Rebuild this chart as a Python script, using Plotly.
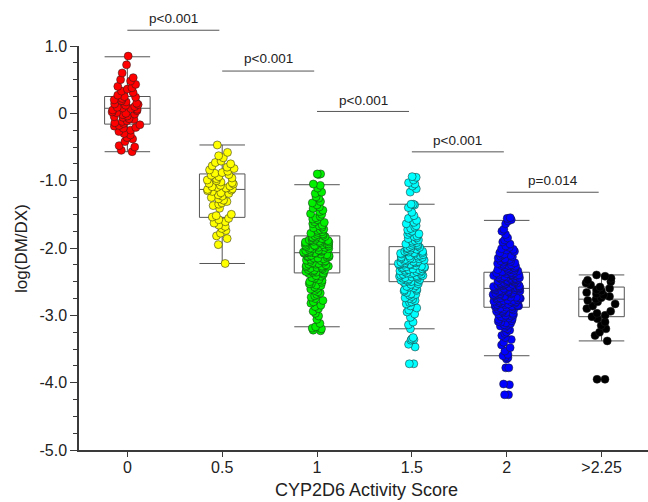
import plotly.graph_objects as go

categories = ["0", "0.5", "1", "1.5", "2", ">2.25"]
colors = ["#ff0000", "#ffff00", "#00f000", "#00ffff", "#0000ff", "#000000"]

# Box statistics
q1_vals = [-0.16, -1.545, -2.37, -2.50, -2.88, -3.02]
median_vals = [0.075, -1.13, -2.07, -2.24, -2.60, -2.76]
q3_vals = [0.25, -0.90, -1.82, -1.98, -2.36, -2.58]
lower_whisker = [-0.57, -2.23, -3.17, -3.20, -3.60, -3.38]
upper_whisker = [0.84, -0.47, -1.06, -1.35, -1.59, -2.40]

as_0 = [0.85, 0.72, 0.60, 0.53, 0.50, 0.48, 0.43, 0.40, 0.38, 0.36, 0.33, 0.31, 0.27, 0.25, 0.24,
        0.22, 0.20, 0.19, 0.17, 0.15, 0.14, 0.13, 0.12, 0.10, 0.09, 0.08, 0.07, 0.06, 0.05, 0.04,
        0.02, 0.01, 0.00, -0.01, -0.02, -0.04, -0.05, -0.06, -0.08, -0.09, -0.11, -0.12, -0.14,
        -0.15, -0.17, -0.18, -0.19, -0.21, -0.22, -0.25, -0.27, -0.30, -0.32, -0.36, -0.38, -0.42,
        -0.48, -0.50, -0.55, -0.57]

as_05 = [-0.47, -0.58, -0.63, -0.66, -0.71, -0.73, -0.75, -0.78, -0.80, -0.82, -0.84, -0.86, -0.88,
         -0.89, -0.91, -0.92, -0.94, -0.96, -0.97, -0.99, -1.00, -1.02, -1.03, -1.04, -1.05, -1.07,
         -1.08, -1.09, -1.10, -1.11, -1.12, -1.13, -1.14, -1.15, -1.16, -1.18, -1.19, -1.21, -1.23,
         -1.25, -1.27, -1.29, -1.31, -1.33, -1.35, -1.37, -1.41, -1.50, -1.52, -1.54, -1.56, -1.58,
         -1.61, -1.63, -1.66, -1.68, -1.71, -1.74, -1.78, -1.82, -1.86, -1.95, -2.23]

as_1 = [-0.90, -0.90, -0.91, -1.05, -1.07, -1.11, -1.17, -1.19, -1.24, -1.26, -1.31, -1.33, -1.36,
        -1.39, -1.41, -1.44, -1.46, -1.49, -1.50, -1.53, -1.55, -1.57, -1.58, -1.61, -1.62, -1.64,
        -1.66, -1.67, -1.69, -1.70, -1.72, -1.73, -1.74, -1.76, -1.77, -1.78, -1.79, -1.80, -1.81,
        -1.82,
        -1.83, -1.84, -1.84, -1.85, -1.86, -1.87, -1.88, -1.88, -1.89, -1.90, -1.91, -1.91, -1.92,
        -1.93, -1.94, -1.94, -1.95, -1.96, -1.97, -1.97, -1.98, -1.99, -1.99, -2.00, -2.01, -2.01,
        -2.02, -2.03, -2.03, -2.04, -2.04, -2.05, -2.05, -2.06, -2.06, -2.07, -2.07, -2.07, -1.96,
        -1.90,
        -2.08, -2.08, -2.09, -2.10, -2.11, -2.11, -2.12, -2.13, -2.14, -2.15, -2.15, -2.16, -2.17,
        -2.18, -2.19, -2.19, -2.20, -2.21, -2.22, -2.23, -2.24, -2.24, -2.25, -2.26, -2.27, -2.28,
        -2.29, -2.29, -2.30, -2.31, -2.32, -2.33, -2.33, -2.34, -2.35, -2.36, -2.36, -2.37, -2.13,
        -2.27,
        -2.38, -2.39, -2.41, -2.42, -2.44, -2.45, -2.47, -2.48, -2.50, -2.51, -2.53, -2.55, -2.56,
        -2.58, -2.60, -2.61, -2.63, -2.65, -2.67, -2.69, -2.71, -2.73, -2.75, -2.78, -2.80, -2.82,
        -2.85, -2.87, -2.90, -2.94, -2.97, -3.01, -3.06, -3.12, -3.17, -3.19, -3.20, -3.22, -3.23,
        -2.53]

as_15 = [-0.94, -0.95, -0.99, -1.03, -1.05, -1.08, -1.12, -1.17, -1.35, -1.35, -1.36, -1.40, -1.47,
         -1.52, -1.56, -1.59, -1.62, -1.64, -1.67, -1.69, -1.71, -1.73, -1.75, -1.77, -1.79, -1.80,
         -1.82, -1.83, -1.85, -1.86, -1.88, -1.89, -1.90, -1.92, -1.93, -1.94, -1.95, -1.96, -1.97,
         -1.98,
         -1.99, -2.00, -2.00, -2.01, -2.02, -2.03, -2.04, -2.05, -2.05, -2.06, -2.07, -2.08, -2.08,
         -2.09, -2.10, -2.11, -2.12, -2.12, -2.13, -2.14, -2.15, -2.15, -2.16, -2.17, -2.18, -2.18,
         -2.19, -2.20, -2.20, -2.21, -2.21, -2.22, -2.22, -2.23, -2.23, -2.24, -2.24, -2.24, -2.07,
         -2.16,
         -2.25, -2.25, -2.26, -2.27, -2.28, -2.28, -2.29, -2.30, -2.31, -2.31, -2.32, -2.33, -2.34,
         -2.35, -2.35, -2.36, -2.37, -2.38, -2.39, -2.39, -2.40, -2.41, -2.42, -2.43, -2.43, -2.44,
         -2.45, -2.46, -2.47, -2.47, -2.48, -2.49, -2.50, -2.50, -2.32, -2.37, -2.41, -2.45, -2.29,
         -2.34,
         -2.51, -2.53, -2.54, -2.56, -2.57, -2.59, -2.61, -2.62, -2.64, -2.66, -2.68, -2.70, -2.72,
         -2.74, -2.76, -2.78, -2.80, -2.83, -2.86, -2.89, -2.92, -2.95, -2.98, -3.03, -3.10, -3.14,
         -3.20, -3.33, -3.35, -3.36, -3.37, -3.43, -3.47, -3.72, -3.72, -2.58, -2.63, -2.69, -2.75,
         -2.81]

as_2 = [-1.55, -1.56, -1.58, -1.60, -1.64, -1.72, -1.75, -1.80, -1.85, -1.88, -1.91, -1.94, -1.97,
        -1.99, -2.01, -2.03, -2.05, -2.07, -2.09, -2.10, -2.12, -2.13, -2.15, -2.16, -2.18, -2.19,
        -2.20, -2.21, -2.23, -2.24, -2.25, -2.26, -2.27, -2.28, -2.29, -2.30, -2.31, -2.32, -2.33,
        -2.34, -2.35, -2.35, -2.36, -2.22, -2.17, -2.11, -2.26, -2.30, -2.33, -2.02,
        -2.37, -2.37, -2.38, -2.39, -2.40, -2.40, -2.41, -2.42, -2.42, -2.43, -2.44, -2.44, -2.45,
        -2.46, -2.46, -2.47, -2.48, -2.48, -2.49, -2.50, -2.50, -2.51, -2.52, -2.52, -2.53, -2.54,
        -2.54, -2.55, -2.56, -2.56, -2.57, -2.57, -2.58, -2.58, -2.59, -2.59, -2.60, -2.60, -2.41,
        -2.45, -2.49, -2.53, -2.57, -2.39, -2.43, -2.47, -2.51, -2.55, -2.59, -2.44,
        -2.61, -2.61, -2.62, -2.63, -2.63, -2.64, -2.65, -2.65, -2.66, -2.67, -2.68, -2.68, -2.69,
        -2.70, -2.71, -2.71, -2.72, -2.73, -2.74, -2.74, -2.75, -2.76, -2.77, -2.77, -2.78, -2.79,
        -2.80, -2.80, -2.81, -2.82, -2.83, -2.84, -2.84, -2.85, -2.86, -2.87, -2.87, -2.88, -2.62,
        -2.66, -2.70, -2.74, -2.78, -2.82, -2.86, -2.64, -2.69, -2.73, -2.79, -2.85,
        -2.89, -2.90, -2.91, -2.92, -2.93, -2.95, -2.96, -2.97, -2.99, -3.00, -3.02, -3.03, -3.05,
        -3.06, -3.08, -3.10, -3.12, -3.14, -3.16, -3.18, -3.20, -3.22, -3.25, -3.27, -3.30, -3.33,
        -3.36, -3.40, -3.44, -3.48, -3.53, -3.58, -3.60, -3.62, -3.63, -3.65, -3.78, -3.78, -4.02,
        -4.03, -4.18, -4.18, -2.94, -2.98, -3.04, -3.09, -3.15, -2.91, -3.01, -3.11]

as_gt225 = [-2.40, -2.42, -2.45, -2.48, -2.50, -2.52, -2.55, -2.58, -2.60, -2.62, -2.64, -2.66,
            -2.68, -2.70, -2.72, -2.74, -2.76, -2.78, -2.80, -2.83, -2.86, -2.90, -2.94, -2.97,
            -3.00, -3.02, -3.05, -3.10, -3.15, -3.20, -3.25, -3.30, -3.38, -3.95, -3.95]

groups = [as_0, as_05, as_1, as_15, as_2, as_gt225]

y_tick_vals = [-5, -4, -3, -2, -1, 0, 1]
y_tick_text = ["-5.0", "-4.0", "-3.0", "-2.0", "-1.0", "0", "1.0"]

# Pairwise comparisons: (left group index, label)
comparisons = [(0, "p<0.001"), (1, "p<0.001"), (2, "p<0.001"), (3, "p<0.001"), (4, "p=0.014")]

FONT = "Liberation Sans, Arial, sans-serif"
LINE = "#3a3a3a"
jitters = [0.75, 0.75, 0.6, 0.6, 0.6, 0.8]

fig = go.Figure()

for cat, a, m, b, lo, hi in zip(categories, q1_vals, median_vals, q3_vals, lower_whisker, upper_whisker):
    fig.add_trace(go.Box(
        x=[cat], q1=[a], median=[m], q3=[b], lowerfence=[lo], upperfence=[hi],
        boxpoints=False, width=0.48, whiskerwidth=1,
        fillcolor="rgba(0,0,0,0)", line=dict(color="#555555", width=1),
        showlegend=False, hoverinfo="skip"))

for cat, col, vals, jit in zip(categories, colors, groups, jitters):
    fig.add_trace(go.Box(
        x=[cat] * len(vals), y=vals, boxpoints="all", jitter=jit, pointpos=0,
        width=0.48, fillcolor="rgba(0,0,0,0)", line=dict(color="rgba(0,0,0,0)", width=0),
        marker=dict(color=col, size=8, line=dict(color="rgba(30,30,30,0.85)", width=0.6)),
        showlegend=False))

# comparison brackets, in paper units of the plot area
line_levels = [1.039, 0.938, 0.838, 0.738, 0.638]
text_levels = [1.067, 0.970, 0.866, 0.767, 0.667]

shapes = []
annotations = []
for (i, label), ly, ty in zip(comparisons, line_levels, text_levels):
    shapes.append(dict(type="line", xref="x", yref="paper", x0=i, x1=i + 0.97, y0=ly, y1=ly,
                       line=dict(color="#555555", width=1)))
    annotations.append(dict(x=i + 0.485, y=ty, xref="x", yref="paper", text=label, showarrow=False,
                            xanchor="center", yanchor="middle", font=dict(family=FONT, size=13.5, color="#222")))

annotations.append(dict(x=0.505, y=-0.099, xref="paper", yref="paper", text="CYP2D6 Activity Score",
                        showarrow=False, xanchor="center", yanchor="middle",
                        font=dict(family=FONT, size=18, color="#222")))
annotations.append(dict(x=-0.102, y=0.5, xref="paper", yref="paper", text="log(DM/DX)",
                        showarrow=False, xanchor="center", yanchor="middle", textangle=-90,
                        font=dict(family=FONT, size=17, color="#222")))

fig.update_layout(
    width=648, height=502,
    margin=dict(l=79, r=0, t=46, b=52),
    paper_bgcolor="white", plot_bgcolor="white",
    boxmode="overlay",
    shapes=shapes, annotations=annotations,
    font=dict(family=FONT, size=16, color="#222"),
    xaxis=dict(type="category", categoryorder="array", categoryarray=categories,
               range=[-0.51, 5.49], showline=True, linecolor=LINE, linewidth=1.5,
               ticks="outside", ticklen=5, tickcolor=LINE, tickwidth=1.2,
               ticklabelstandoff=-3,
               tickfont=dict(family=FONT, size=16, color="#222"),
               showgrid=False, zeroline=False),
    yaxis=dict(range=[-5, 1], tickvals=y_tick_vals, ticktext=y_tick_text,
               showline=True, linecolor=LINE, linewidth=1.5,
               ticks="outside", ticklen=7, tickcolor=LINE, tickwidth=1.2,
               tickfont=dict(family=FONT, size=16, color="#222"),
               minor=dict(tick0=0, dtick=0.25, ticks="outside", ticklen=4, tickcolor=LINE, tickwidth=1, showgrid=False),
               showgrid=False, zeroline=False),
)

fig.write_html("out.html")
